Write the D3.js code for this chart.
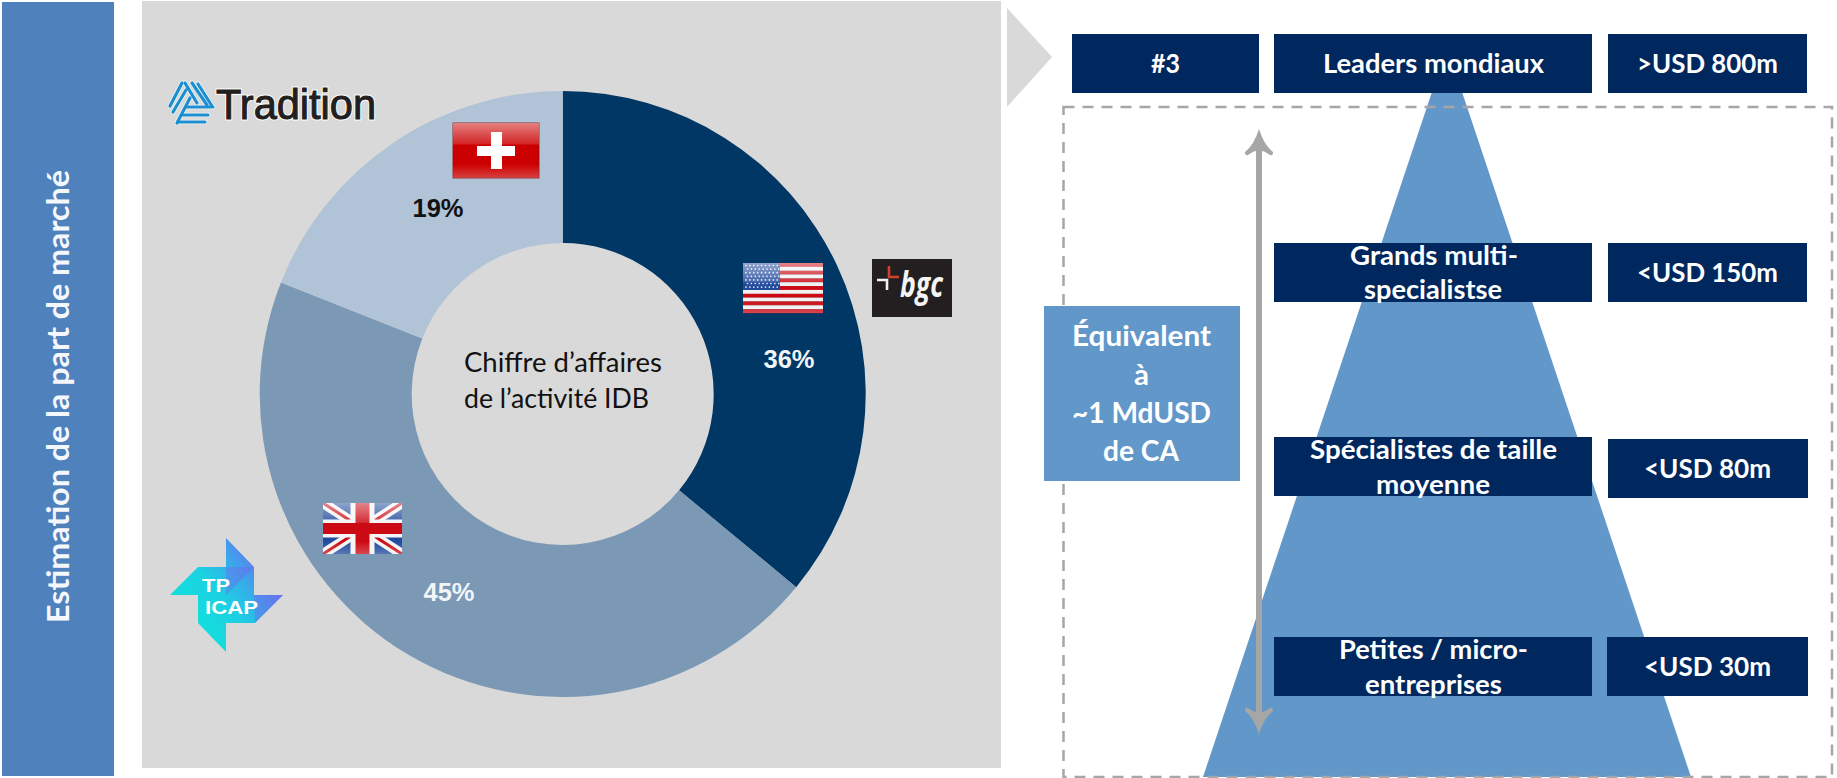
<!DOCTYPE html>
<html><head><meta charset="utf-8">
<script src="https://cdn.jsdelivr.net/npm/d3@7"></script>
<style>html,body{margin:0;padding:0;background:#fff;overflow:hidden}svg{display:block}text{font-family:Lato,"Open Sans",sans-serif}</style>
</head><body><div id="c"></div>
<script>
// ---- data ----
const companies = ["BGC", "TP ICAP", "Tradition"];
const shares = [36, 45, 19];
const sideTitle = "Estimation de la part de marché";
const centreLines = ["Chiffre d’affaires", "de l’activité IDB"];
const rankLabel = "#3";
const tierNames = [["Leaders mondiaux"], ["Grands multi-", "specialistse"], ["Spécialistes de taille", "moyenne"], ["Petites / micro-", "entreprises"]];
const tierRevenues = [">USD 800m", "<USD 150m", "<USD 80m", "<USD 30m"];
const equivalentLines = ["Équivalent", "à", "~1 MdUSD", "de CA"];

// ---- layout and style (separate from the data) ----
const W = 1837, H = 778;
const C = {cx: 562.7, cy: 394, outer: 303, inner: 151};
const sliceColors = ["#003764", "#7b98b5", "#b1c3d6"];
const shareLabelPos = [[789, 368, "#f2f5f8"], [449, 601, "#f2f5f8"], [438, 217, "#111"]];
const navy = "#00285e", blue = "#6297c9", grey = "#a6a6a6";
const nameBoxes = [[1274, 34, 318, 59], [1274, 243, 318, 59], [1274, 437, 318, 59], [1274, 637, 318, 59]];
const revBoxes = [[1608, 34, 199, 59], [1608, 243, 199, 59], [1608, 439, 200, 59], [1607, 637, 201, 59]];
const nameText = [[[1323, 1544, 73]], [[1350, 1518, 265], [1364, 1502, 299]], [[1310, 1557, 459], [1376, 1490, 494]], [[1339, 1528, 659], [1365, 1502, 694]]];
const revText = [[1637, 1778, 73], [1637, 1778, 282], [1644, 1771, 478], [1644, 1771, 676]];
const eqText = [[1072, 1211, 346], [1134, 1149, 385], [1072, 1211, 423], [1103, 1179, 461]];

const svg = d3.select("#c").append("svg").attr("width", W).attr("height", H).attr("viewBox", `0 0 ${W} ${H}`);
const defs = svg.append("defs");
const gloss = defs.append("linearGradient").attr("id", "gloss").attr("x1", 0).attr("x2", 0).attr("y1", 0).attr("y2", 1);
gloss.append("stop").attr("offset", 0).attr("stop-color", "#fff").attr("stop-opacity", .5);
gloss.append("stop").attr("offset", .38).attr("stop-color", "#fff").attr("stop-opacity", .15);
gloss.append("stop").attr("offset", .4).attr("stop-color", "#fff").attr("stop-opacity", 0);
gloss.append("stop").attr("offset", .75).attr("stop-color", "#fff").attr("stop-opacity", 0);
gloss.append("stop").attr("offset", 1).attr("stop-color", "#fff").attr("stop-opacity", .25);
const tp = defs.append("linearGradient").attr("id", "tp").attr("gradientUnits", "userSpaceOnUse").attr("x1", 190).attr("y1", 630).attr("x2", 280).attr("y2", 560);
tp.append("stop").attr("offset", 0).attr("stop-color", "#12e2da");
tp.append("stop").attr("offset", .4).attr("stop-color", "#1cd0e2");
tp.append("stop").attr("offset", .65).attr("stop-color", "#3aa8ea");
tp.append("stop").attr("offset", 1).attr("stop-color", "#7d55f2");

function rect(g, x, y, w, h, fill) { return g.append("rect").attr("x", x).attr("y", y).attr("width", w).attr("height", h).attr("fill", fill); }
function fit(g, str, x0, x1, base, size, weight, fill) {
  return g.append("text").attr("x", x0).attr("y", base).attr("textLength", x1 - x0).attr("lengthAdjust", "spacingAndGlyphs")
    .attr("font-size", size).attr("font-weight", weight).attr("fill", fill).text(str);
}

// ---- left band and panel ----
rect(svg, 2, 2, 112, 774, "#4f81bd");
rect(svg, 142, 1, 859, 767, "#d9d9d9");
svg.append("text").attr("transform", "translate(69,623) rotate(-90)").attr("textLength", 453).attr("lengthAdjust", "spacingAndGlyphs")
  .attr("font-size", 30).attr("font-weight", 700).attr("fill", "#f4f7fb").text(sideTitle);

// ---- donut ----
const pie = d3.pie().sort(null).value(d => d);
const arc = d3.arc().innerRadius(C.inner).outerRadius(C.outer);
const donut = svg.append("g").attr("transform", `translate(${C.cx},${C.cy})`);
donut.selectAll("path").data(pie(shares)).join("path").attr("d", arc).attr("fill", (d, i) => sliceColors[i]);
svg.selectAll("text.share").data(shares).join("text").attr("class", "share")
  .attr("x", (d, i) => shareLabelPos[i][0]).attr("y", (d, i) => shareLabelPos[i][1]).attr("text-anchor", "middle")
  .style("font-family", "'Liberation Sans',Arial,sans-serif").attr("font-size", 25.5).attr("font-weight", 700)
  .attr("fill", (d, i) => shareLabelPos[i][2]).text(d => d + "%");
fit(svg, centreLines[0], 464, 662, 372, 26, 400, "#111");
fit(svg, centreLines[1], 464, 649, 408, 26, 400, "#111");

// ---- flags ----
function flagFrame(g, x, y, w, h) {
  rect(g, x, y, w, h, "url(#gloss)");
}
const ch = svg.append("g");
rect(ch, 453, 123, 86, 55, "#cc0000").attr("stroke", "#8e0a0a").attr("stroke-width", .8);
flagFrame(ch, 453, 123, 86, 55);
rect(ch, 491, 132, 11, 37, "#fff"); rect(ch, 477, 146, 38, 10, "#fff");

const us = svg.append("g");
const usStripe = d3.scaleBand().domain(d3.range(13)).range([263, 313]);
us.selectAll("rect.s").data(d3.range(13)).join("rect").attr("class", "s").attr("x", 743).attr("width", 80)
  .attr("y", d => usStripe(d)).attr("height", usStripe.bandwidth() + .2).attr("fill", d => d % 2 ? "#f1f1f1" : "#cc0a14");
rect(us, 743, 263, 37, 27, "#234a9c");
for (let r = 0; r < 7; r++) for (let k = 0; k < 9; k++)
  us.append("circle").attr("cx", 746 + k * 3.9 + (r % 2) * 1.5).attr("cy", 265.5 + r * 3.6).attr("r", .85).attr("fill", "#e6ecf6");
flagFrame(us, 743, 263, 80, 50);

const uk = svg.append("g");
const ux0 = 323, ux1 = 402, uy0 = 503, uy1 = 554, um = (ux0 + ux1) / 2, uv = (uy0 + uy1) / 2;
rect(uk, ux0, uy0, ux1 - ux0, uy1 - uy0, "#1f4a9e");
const ukClip = defs.append("clipPath").attr("id", "ukc");
ukClip.append("rect").attr("x", ux0).attr("y", uy0).attr("width", ux1 - ux0).attr("height", uy1 - uy0);
const ukd = uk.append("g").attr("clip-path", "url(#ukc)");
[[ux0, uy0, ux1, uy1], [ux0, uy1, ux1, uy0]].forEach(a => {
  ukd.append("line").attr("x1", a[0]).attr("y1", a[1]).attr("x2", a[2]).attr("y2", a[3]).attr("stroke", "#f4f4f4").attr("stroke-width", 10);
  ukd.append("line").attr("x1", a[0]).attr("y1", a[1]).attr("x2", a[2]).attr("y2", a[3]).attr("stroke", "#cc0a14").attr("stroke-width", 3);
});
rect(uk, um - 12, uy0, 24, uy1 - uy0, "#f4f4f4"); rect(uk, ux0, uv - 9, ux1 - ux0, 18, "#f4f4f4");
rect(uk, um - 7, uy0, 14, uy1 - uy0, "#cc0a14"); rect(uk, ux0, uv - 5.5, ux1 - ux0, 11, "#cc0a14");
flagFrame(uk, ux0, uy0, ux1 - ux0, uy1 - uy0);

// ---- logos ----
const tradLines = [[185,83,197,103],[192,83,207,105],[198,84,212,106],[182,83,170,106],[186,90,173,112],[190,98,177,123],
 [186,107,213,107],[182,115,208,115],[178,122,205,122]];
const tradH = svg.append("g").attr("stroke", "#fff").attr("stroke-width", 4.6).attr("stroke-linecap", "round").attr("opacity", .8);
const trad = svg.append("g").attr("stroke", "#1b8fd2").attr("stroke-width", 3.2).attr("stroke-linecap", "round");
tradLines.forEach(a => {
  [tradH, trad].forEach(g => g.append("line").attr("x1", a[0]).attr("y1", a[1]).attr("x2", a[2]).attr("y2", a[3]));
});
fit(svg, "Tradition", 216, 376, 119, 43, 400, "#fff").style("font-family", "'Liberation Sans',Arial,sans-serif")
  .attr("stroke", "#fff").attr("stroke-width", 3);
fit(svg, "Tradition", 216, 376, 119, 43, 400, "#231f20").style("font-family", "'Liberation Sans',Arial,sans-serif")
  .attr("stroke", "#231f20").attr("stroke-width", 1.1);

const bgc = svg.append("g");
rect(bgc, 872, 259, 80, 58, "#231f20");
bgc.append("path").attr("d", "M877,280H887V290").attr("fill", "none").attr("stroke", "#f2f2f2").attr("stroke-width", 2.6);
bgc.append("path").attr("d", "M889,266V277H899").attr("fill", "none").attr("stroke", "#d2402e").attr("stroke-width", 2.6);
fit(bgc, "bgc", 900, 943, 297, 35, 700, "#f4f4f4").attr("font-style", "italic").style("font-family", "'Open Sans',sans-serif");

const pin = [[226,538],[254,567],[254,595],[283,595],[255,623],[226,623],[226,652],[198,623],[198,595],[170,595],[198,567],[226,567]];
svg.append("path").attr("d", d3.line()(pin) + "Z").attr("fill", "url(#tp)");
svg.append("path").attr("d", "M226,567H254L226,595ZM254,595H283L255,623Z").attr("fill", "#7d55f2").attr("opacity", .35);
fit(svg, "TP", 202, 230, 592, 19, 700, "#fff").style("font-family", "'Liberation Sans',Arial,sans-serif");
fit(svg, "ICAP", 205, 258, 614, 19, 700, "#fff").style("font-family", "'Liberation Sans',Arial,sans-serif");

// ---- chevron ----
svg.append("path").attr("d", "M1007,8L1052,57L1007,107Z").attr("fill", "#d9d9d9");

// ---- pyramid ----
const py = d3.scaleLinear().domain([0, 1]).range([47, 777]);
const pyramid = [[1447, 0], [1691, 1], [1203, 1]];
svg.append("path").attr("d", d3.line().x(d => d[0]).y(d => py(d[1]))(pyramid) + "Z").attr("fill", blue);

// ---- dashed frame ----
rect(svg, 1063.5, 107, 768.5, 670, "none").attr("stroke", grey).attr("stroke-width", 2.5).attr("stroke-dasharray", "11 8");

// ---- double arrow ----
const ay0 = 129, ay1 = 734, ax = 1259;
const ag = svg.append("g").attr("fill", grey);
rect(ag, ax - 3, ay0 + 14, 6, ay1 - ay0 - 28, grey);
ag.append("path").attr("d", `M${ax},${ay0}Q${ax + 5},${ay0 + 16} ${ax + 14},${ay0 + 23}Q${ax + 14},${ay0 + 27} ${ax + 11},${ay0 + 26}Q${ax + 6},${ay0 + 22} ${ax},${ay0 + 21}Q${ax - 6},${ay0 + 22} ${ax - 11},${ay0 + 26}Q${ax - 14},${ay0 + 27} ${ax - 14},${ay0 + 23}Q${ax - 5},${ay0 + 16} ${ax},${ay0}Z`);
ag.append("path").attr("d", `M${ax},${ay1}Q${ax + 5},${ay1 - 16} ${ax + 14},${ay1 - 23}Q${ax + 14},${ay1 - 27} ${ax + 11},${ay1 - 26}Q${ax + 6},${ay1 - 22} ${ax},${ay1 - 21}Q${ax - 6},${ay1 - 22} ${ax - 11},${ay1 - 26}Q${ax - 14},${ay1 - 27} ${ax - 14},${ay1 - 23}Q${ax - 5},${ay1 - 16} ${ax},${ay1}Z`);

// ---- tier boxes ----
const F = 26;
rect(svg, 1072, 34, 187, 59, navy);
fit(svg, rankLabel, 1151, 1180, 73, F, 700, "#fff");
tierNames.forEach((lines, i) => {
  const b = nameBoxes[i];
  rect(svg, b[0], b[1], b[2], b[3], navy);
  lines.forEach((s, k) => { const t = nameText[i][k]; fit(svg, s, t[0], t[1], t[2], F, 700, "#fff"); });
});
tierRevenues.forEach((s, i) => {
  const b = revBoxes[i], t = revText[i];
  rect(svg, b[0], b[1], b[2], b[3], navy);
  fit(svg, s, t[0], t[1], t[2], F, 700, "#fff");
});

// ---- equivalent box ----
rect(svg, 1044, 306, 196, 175, blue);
equivalentLines.forEach((s, i) => { const t = eqText[i]; fit(svg, s, t[0], t[1], t[2], 28, 700, "#fff"); });
</script></body></html>
